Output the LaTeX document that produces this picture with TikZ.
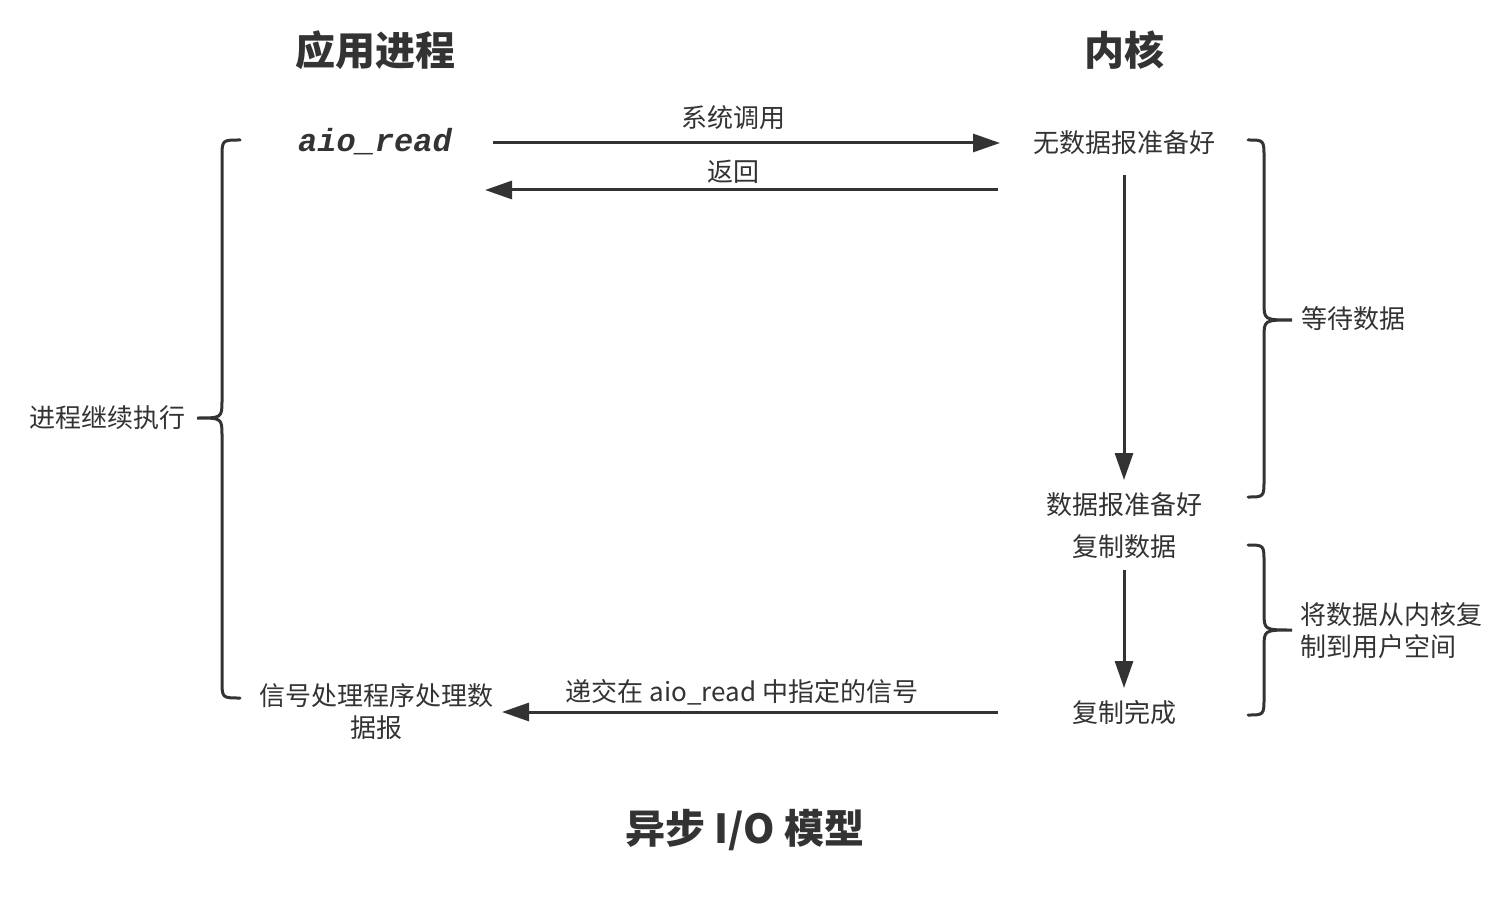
\documentclass[tikz,border=0pt]{standalone}
\usepackage{fontspec}
\setmainfont{Noto Sans CJK SC}
\newfontfamily\codefont{Liberation Mono}
\usetikzlibrary{arrows.meta}
\definecolor{ink}{HTML}{333333}
\begin{document}
\begin{tikzpicture}[x=0.5pt,y=-0.5pt,
  lbl/.style={text=ink,font=\fontsize{13pt}{16pt}\selectfont,inner sep=0pt},
  ttl/.style={text=ink,font=\fontsize{20pt}{24pt}\selectfont\bfseries,inner sep=0pt},
  conn/.style={draw=ink,line width=1.5pt,-{Triangle[length=13.5pt,width=9pt]}},
  brc/.style={draw=ink,line width=1.5pt,line cap=round}]
\useasboundingbox (0,0) rectangle (1507,898);
\fill[white] (0,0) rectangle (1507,898);
% titles
\node[ttl] (tapp) at (375,50) {应用进程};
\node[ttl] (tker) at (1124,50) {内核};
\node[ttl] (tbot) at (745,830) {异步 I/O 模型};
% left column
\node[text=ink,inner sep=0pt,font=\codefont\fontsize{16pt}{19pt}\selectfont\bfseries\itshape] (aio) at (375,142) {aio\_read};
\node[lbl,align=center] (sig) at (376,712) {信号处理程序处理数\\据报};
\node[lbl] (cont) at (107,418) {进程继续执行};
% right column
\node[lbl] (nodata) at (1124,143) {无数据报准备好};
\node[lbl] (ready) at (1124,505) {数据报准备好};
\node[lbl] (copy) at (1124,547) {复制数据};
\node[lbl] (done) at (1124,713) {复制完成};
\node[lbl] (wait) at (1353,319) {等待数据};
\node[lbl,align=left,anchor=west] (cpy2) at (1300,631) {将数据从内核复\\制到用户空间};
% arrow end points
\coordinate (a1s) at (493,143);
\coordinate (a1e) at (1000,143);
\coordinate (a2s) at (998,190);
\coordinate (a2e) at (485,190);
\coordinate (v1s) at (1124,175);
\coordinate (v1e) at (1124,480);
\coordinate (v2s) at (1124,570);
\coordinate (v2e) at (1124,688);
\coordinate (a3s) at (998,712);
\coordinate (a3e) at (502,712);
% arrows
\draw[conn] (a1s) -- (a1e);
\node[lbl] (l1) at (733,118) {系统调用};
\draw[conn] (a2s) -- (a2e);
\node[lbl] (l2) at (733,172) {返回};
\draw[conn] (v1s) -- (v1e);
\draw[conn] (v2s) -- (v2e);
\draw[conn] (a3s) -- (a3e);
\node[lbl] (l3) at (742,692) {递交在 aio\_read 中指定的信号};
% braces
\draw[brc] (1248,140) .. controls (1264,140) .. (1264,158) -- (1264,302)
  .. controls (1264,320) .. (1292,320) .. controls (1264,320) .. (1264,338)
  -- (1264,479) .. controls (1264,497) .. (1248,497);
\draw[brc] (1248,545) .. controls (1264,545) .. (1264,563) -- (1264,612)
  .. controls (1264,630) .. (1292,630) .. controls (1264,630) .. (1264,648)
  -- (1264,697) .. controls (1264,715) .. (1248,715);
\draw[brc] (240,140) .. controls (222,140) .. (222,158) -- (222,400)
  .. controls (222,418) .. (197,418) .. controls (222,418) .. (222,436)
  -- (222,680) .. controls (222,698) .. (240,698);
\end{tikzpicture}
\end{document}
